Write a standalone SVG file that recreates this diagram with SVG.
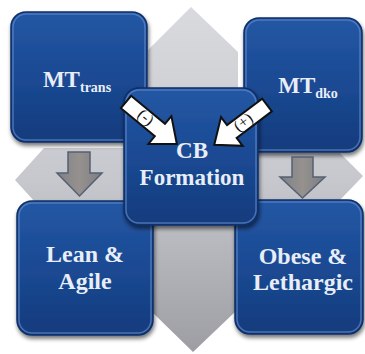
<svg xmlns="http://www.w3.org/2000/svg" width="365" height="354" viewBox="0 0 365 354">
  <defs>
    <linearGradient id="crossFill" x1="0" y1="0" x2="0" y2="1">
      <stop offset="0" stop-color="#d8dade"/>
      <stop offset="0.5" stop-color="#c6c8cd"/>
      <stop offset="1" stop-color="#9c9ea3"/>
    </linearGradient>
    <linearGradient id="boxFill" x1="0" y1="0" x2="0" y2="1">
      <stop offset="0" stop-color="#2457a4"/>
      <stop offset="0.55" stop-color="#1a4891"/>
      <stop offset="1" stop-color="#123b7c"/>
    </linearGradient>
    <linearGradient id="grayArrow" x1="0" y1="0" x2="1" y2="0">
      <stop offset="0" stop-color="#7f8187"/>
      <stop offset="0.5" stop-color="#96918e"/>
      <stop offset="1" stop-color="#7c7e84"/>
    </linearGradient>
    <filter id="shadow" x="-20%" y="-20%" width="140%" height="140%">
      <feGaussianBlur in="SourceAlpha" stdDeviation="2"/>
      <feOffset dx="1" dy="3" result="b"/>
      <feComponentTransfer><feFuncA type="linear" slope="0.55"/></feComponentTransfer>
      <feMerge><feMergeNode/><feMergeNode in="SourceGraphic"/></feMerge>
    </filter>
    <g id="whiteArrowShape">
      <polygon points="0,-8 44,-8 44,-18 66,0 44,18 44,8 0,8"/>
    </g>
  </defs>
  <style>
    text { font-family: "Liberation Serif", "Times New Roman", Times, "DejaVu Serif", serif; }
    .box { fill: url(#boxFill); stroke: #0c2f68; stroke-width: 1.5; filter: url(#shadow); }
    .bevel { fill: none; stroke: #5f89c9; stroke-width: 1.5; opacity: 0.7; }
    .label { font-weight: bold; fill: #e8eef7; text-anchor: middle; }
    .grayarrow { fill: url(#grayArrow); stroke: #566072; stroke-width: 1.5; stroke-linejoin: miter; }
    .whitearrow { fill: #ffffff; stroke: #111111; stroke-width: 2; stroke-linejoin: miter; }
    .sign { font-size: 16px; fill: #111111; text-anchor: middle; }
  </style>

  <!-- background four-point cross -->
  <polygon fill="url(#crossFill)" points="191,7 238,52 238,153 340,153 363,176 340,200 235,200 235,312 193,352 152,312 152,212 44,212 15,180 44,148 148,148 148,50"/>

  <!-- corner nodes -->
  <g id="node-mt-trans">
    <rect class="box" x="11" y="12" width="136" height="130" rx="15"/>
    <rect class="bevel" x="13" y="14" width="132" height="126" rx="13"/>
    <text class="label" x="77" y="87" style="font-size:23px">MT<tspan style="font-size:14px" dy="5">trans</tspan></text>
  </g>
  <g id="node-mt-dko">
    <rect class="box" x="244" y="18" width="118" height="134" rx="15"/>
    <rect class="bevel" x="246" y="20" width="114" height="130" rx="13"/>
    <text class="label" x="308" y="93" style="font-size:23px">MT<tspan style="font-size:14px" dy="5">dko</tspan></text>
  </g>
  <g id="node-lean">
    <rect class="box" x="17" y="201" width="136" height="134" rx="15"/>
    <rect class="bevel" x="19" y="203" width="132" height="130" rx="13"/>
    <text class="label" x="85" y="262" style="font-size:24px">Lean &amp;</text>
    <text class="label" x="85" y="289" style="font-size:24px">Agile</text>
  </g>
  <g id="node-obese">
    <rect class="box" x="235" y="200" width="128" height="134" rx="15"/>
    <rect class="bevel" x="237" y="202" width="124" height="130" rx="13"/>
    <text class="label" x="303" y="264" style="font-size:24px">Obese &amp;</text>
    <text class="label" x="303" y="290" style="font-size:24px">Lethargic</text>
  </g>

  <!-- connectors -->
  <g id="connectors">
    <polygon class="grayarrow" points="68,152 90,152 90,173 102,173 79.5,196 57,173 68,173"/>
    <polygon class="grayarrow" points="292,157 313,157 313,177 325,177 302.5,198 280,177 292,177"/>
  </g>

  <!-- centre node -->
  <g id="node-cb">
    <rect class="box" x="124" y="88" width="134" height="137" rx="15"/>
    <rect class="bevel" x="126" y="90" width="130" height="133" rx="13"/>
    <text class="label" x="192" y="158" style="font-size:23px">CB</text>
    <text class="label" x="192" y="185" style="font-size:23px">Formation</text>
  </g>

  <!-- regulation arrows into the centre node -->
  <g id="regulation">
    <use href="#whiteArrowShape" class="whitearrow" transform="translate(126,102) rotate(39.6)"/>
    <text class="sign" transform="translate(146,117) rotate(39.6)" dominant-baseline="central">(-)</text>
    <use href="#whiteArrowShape" class="whitearrow" transform="translate(267,105) rotate(143)"/>
    <text class="sign" transform="translate(243,122) rotate(-37)" dominant-baseline="central">(+)</text>
  </g>
</svg>
